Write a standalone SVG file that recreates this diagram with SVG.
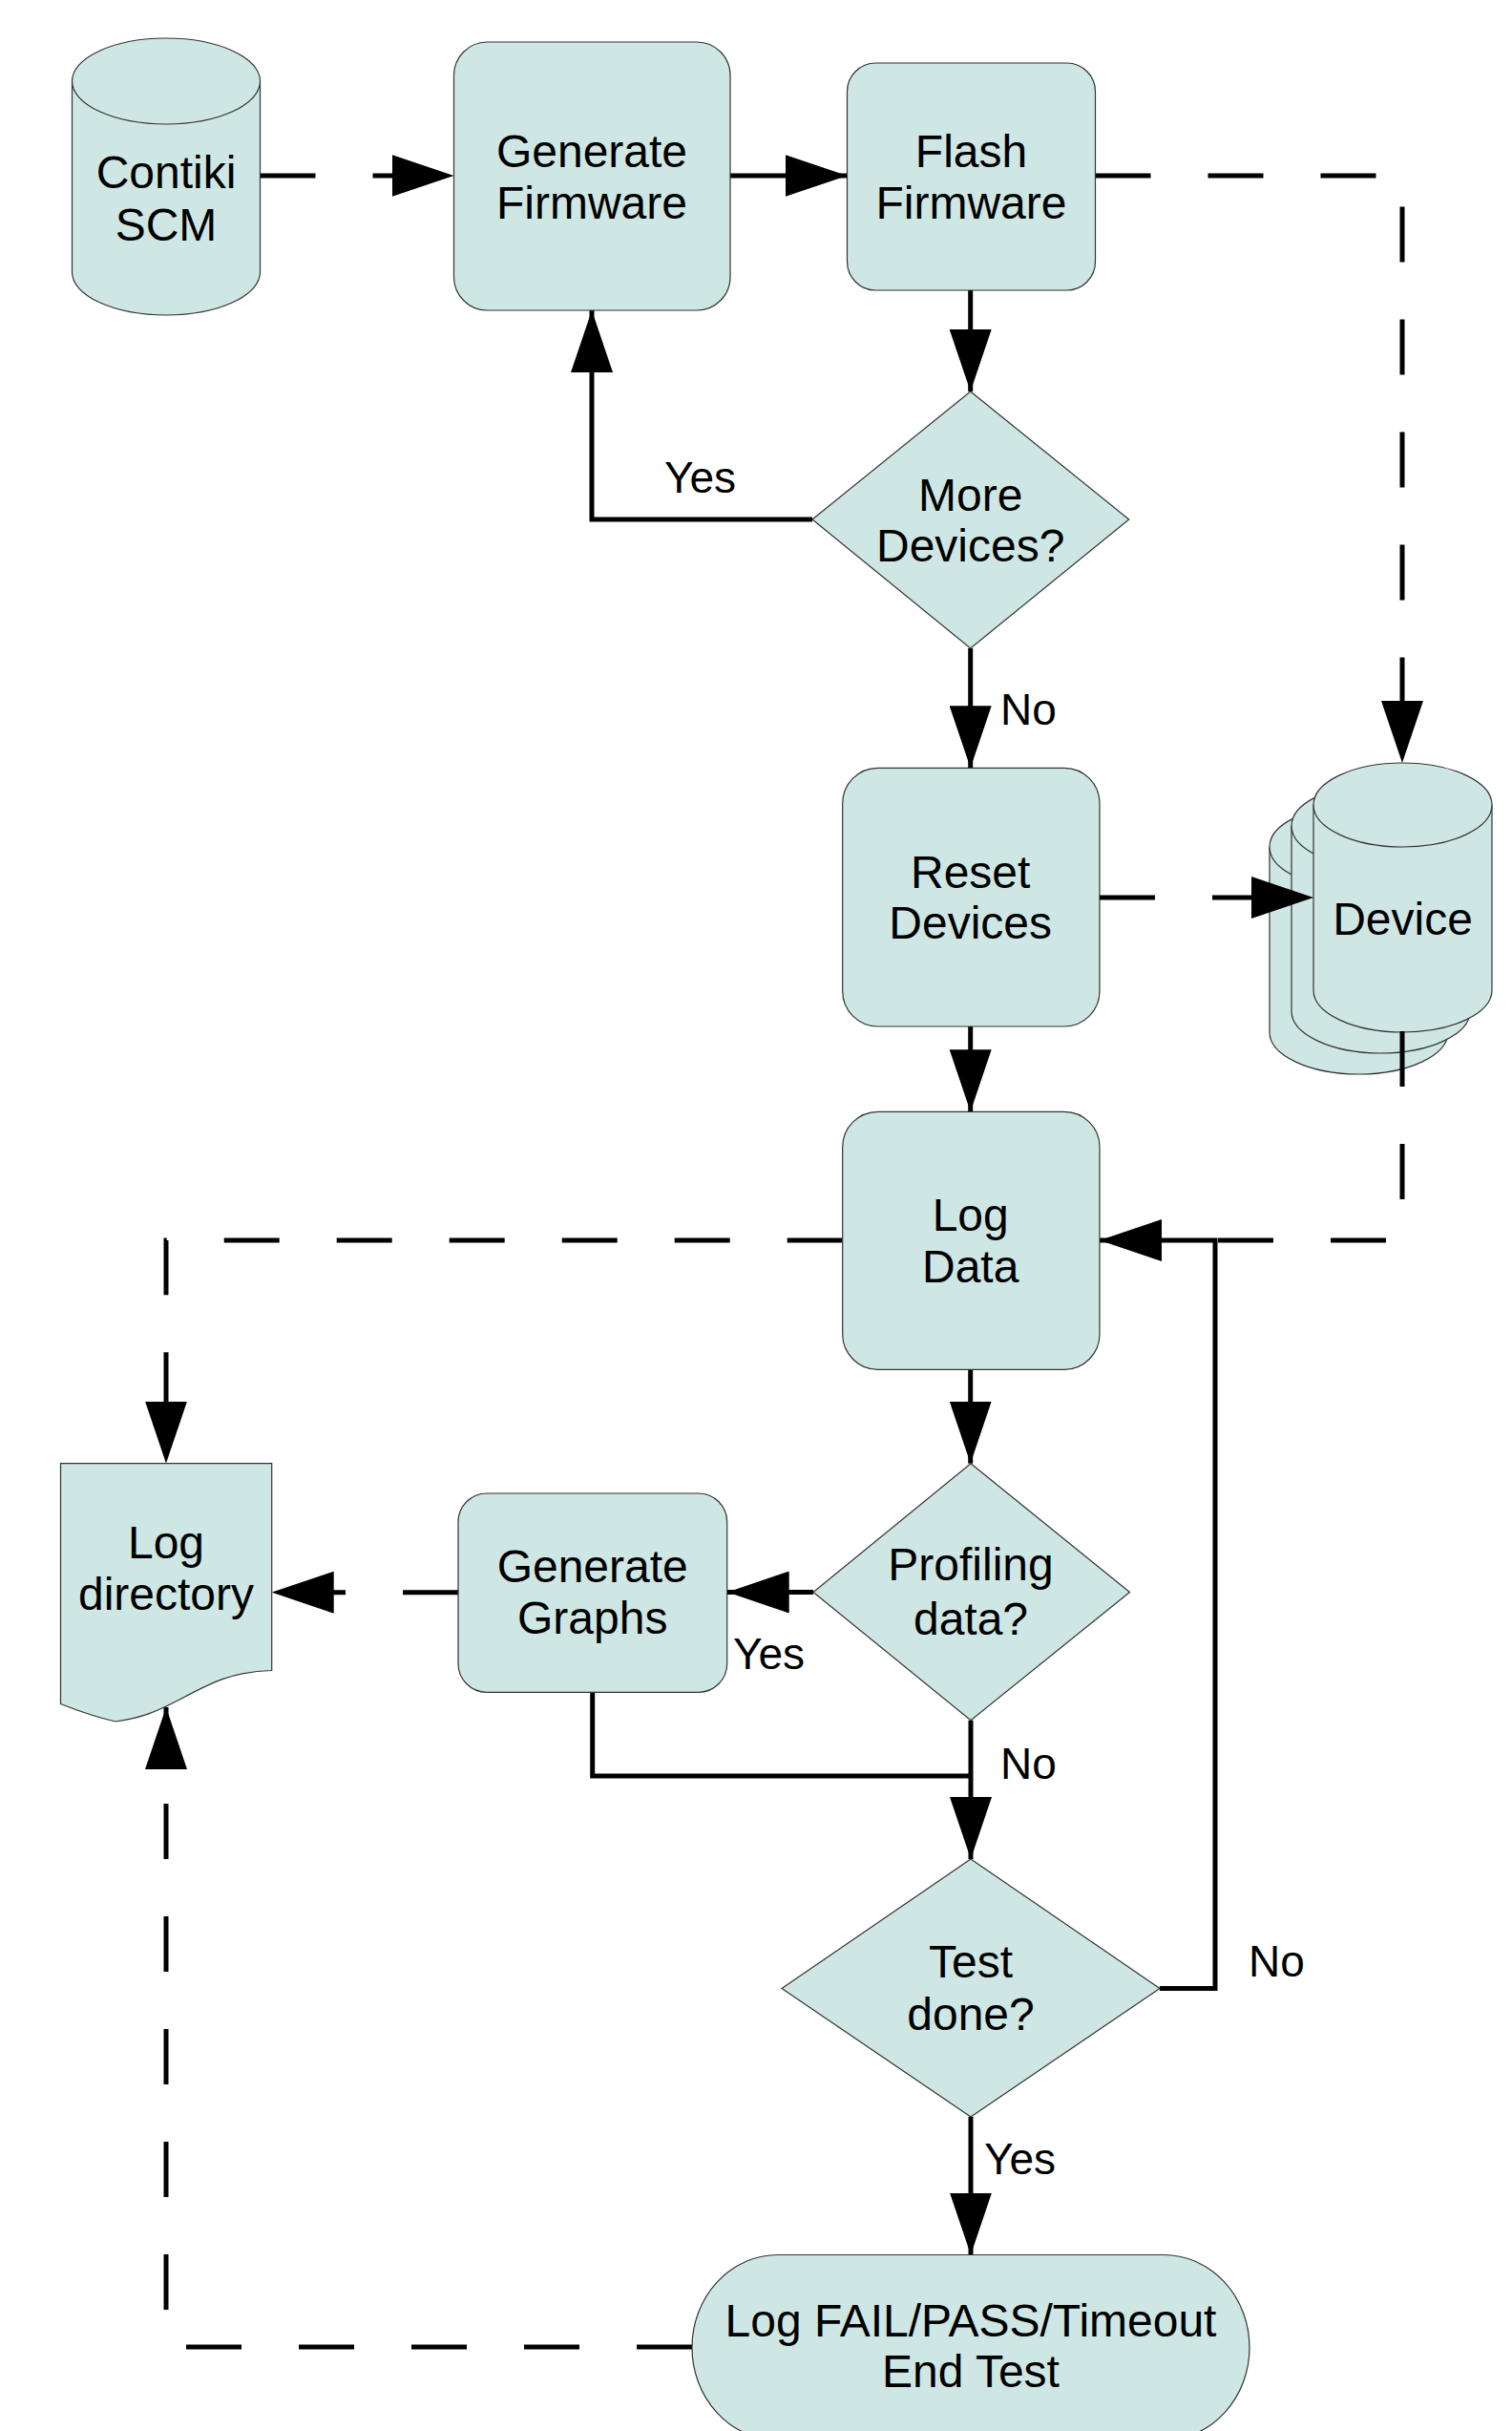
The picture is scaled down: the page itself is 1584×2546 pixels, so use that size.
<svg xmlns="http://www.w3.org/2000/svg" width="1584" height="2546" viewBox="0 0 1584 2546">
  <style>
    .node { fill: #cfe7e4; stroke: #333333; stroke-width: 1.2; }
    .label { font-family: "Liberation Sans", Arial, sans-serif; font-size: 48px; fill: #000000; text-anchor: middle; }
    .edge-label { font-family: "Liberation Sans", Arial, sans-serif; font-size: 46px; fill: #000000; }
    .flow { fill: none; stroke: #000000; stroke-width: 5; }
    .dashed { stroke-dasharray: 58 60; }
  </style>
  <defs>
    <marker id="arrow" viewBox="0 0 65 44" markerWidth="65" markerHeight="44" refX="65" refY="22" orient="auto" markerUnits="userSpaceOnUse">
      <path d="M0,0 L65,22 L0,44 Z" fill="#000000"/>
    </marker>
  </defs>

  <rect width="1584" height="2546" fill="#ffffff"/>

  <!-- connectors -->
  <g id="connectors">
    <path class="flow dashed" d="M272.5,184 H475.5" marker-end="url(#arrow)"/>
    <path class="flow" d="M765,184 H887.5" marker-end="url(#arrow)"/>
    <path class="flow dashed" d="M1147.5,184 H1469 V799" marker-end="url(#arrow)"/>
    <path class="flow" d="M1016.7,304 V410" marker-end="url(#arrow)"/>
    <path class="flow" d="M851,544 H620 V325" marker-end="url(#arrow)"/>
    <path class="flow" d="M1016.7,679 V804.3" marker-end="url(#arrow)"/>
    <path class="flow" d="M1016.7,1075 V1164.3" marker-end="url(#arrow)"/>
    <path class="flow dashed" d="M882.7,1299 H174 V1532.6" marker-end="url(#arrow)"/>
    <path class="flow" d="M1016.7,1434.3 V1532.7" marker-end="url(#arrow)"/>
    <path class="flow" d="M852,1667.5 H761.7" marker-end="url(#arrow)"/>
    <path class="flow dashed" d="M480,1667.7 H284.7" marker-end="url(#arrow)"/>
    <path class="flow" d="M1017,1801.7 V1947" marker-end="url(#arrow)"/>
    <path class="flow" d="M620.7,1772.3 V1860 H1017"/>
    <path class="flow" d="M1215,2082.5 H1273 V1299 H1152" marker-end="url(#arrow)"/>
    <path class="flow" d="M1017,2217 V2361.5" marker-end="url(#arrow)"/>
    <path class="flow dashed" d="M725,2458 H174 V1788" marker-end="url(#arrow)"/>

    <text class="edge-label" x="696" y="516">Yes</text>
    <text class="edge-label" x="1048" y="759">No</text>
    <text class="edge-label" x="768" y="1748">Yes</text>
    <text class="edge-label" x="1048" y="1863">No</text>
    <text class="edge-label" x="1308" y="2070">No</text>
    <text class="edge-label" x="1031" y="2277">Yes</text>
  </g>

  <!-- Contiki SCM repository -->
  <g id="contiki-scm">
    <path class="node" d="M75.5,85 V285 A98.5,45 0 0 0 272.5,285 V85 A98.5,45 0 0 0 75.5,85 Z"/>
    <path class="node" d="M75.5,85 A98.5,45 0 0 0 272.5,85" fill="none"/>
    <text class="label" x="174" y="197">Contiki</text>
    <text class="label" x="174" y="252">SCM</text>
  </g>

  <g id="generate-firmware">
    <rect class="node" x="475.5" y="44" width="289.5" height="281" rx="35" ry="35"/>
    <text class="label" x="620" y="175">Generate</text>
    <text class="label" x="620" y="229">Firmware</text>
  </g>

  <g id="flash-firmware">
    <rect class="node" x="887.5" y="66" width="260" height="238" rx="30" ry="30"/>
    <text class="label" x="1017.5" y="175">Flash</text>
    <text class="label" x="1017.5" y="229">Firmware</text>
  </g>

  <g id="more-devices">
    <polygon class="node" points="1016.7,410 1182.7,544 1016.7,679 851,544"/>
    <text class="label" x="1016.7" y="535">More</text>
    <text class="label" x="1016.7" y="588">Devices?</text>
  </g>

  <g id="reset-devices">
    <rect class="node" x="882.7" y="804.3" width="269.3" height="270.7" rx="37" ry="37"/>
    <text class="label" x="1016.7" y="930">Reset</text>
    <text class="label" x="1016.7" y="983">Devices</text>
  </g>

  <!-- stack of device cylinders, back to front -->
  <g id="device">
    <path class="node" d="M1330,887 V1081 A93.5,44 0 0 0 1517,1081 V887 A93.5,44 0 0 0 1330,887 Z"/>
    <path class="node" d="M1330,887 A93.5,44 0 0 0 1517,887" fill="none"/>
    <path class="node" d="M1353,865 V1059 A93.5,44 0 0 0 1540,1059 V865 A93.5,44 0 0 0 1353,865 Z"/>
    <path class="node" d="M1353,865 A93.5,44 0 0 0 1540,865" fill="none"/>
    <path class="node" d="M1376,843 V1037 A93.5,44 0 0 0 1563,1037 V843 A93.5,44 0 0 0 1376,843 Z"/>
    <path class="node" d="M1376,843 A93.5,44 0 0 0 1563,843" fill="none"/>
    <text class="label" x="1469.5" y="979">Device</text>
  </g>

  <!-- device links, drawn over the stack -->
  <g id="device-links">
    <path class="flow dashed" d="M1152,940 H1376" marker-end="url(#arrow)"/>
    <path class="flow dashed" d="M1469,1080 V1299 H1273"/>
  </g>

  <g id="log-data">
    <rect class="node" x="882.7" y="1164.3" width="269.3" height="270" rx="37" ry="37"/>
    <text class="label" x="1016.7" y="1289">Log</text>
    <text class="label" x="1016.7" y="1343">Data</text>
  </g>

  <g id="log-directory">
    <path class="node" d="M63.5,1532.6 H284.7 V1749.5 C245,1750 220,1763 190,1779 C165,1792 150,1799 121,1803 Q95,1797 63.5,1784.5 Z"/>
    <text class="label" x="174" y="1632">Log</text>
    <text class="label" x="174" y="1686">directory</text>
  </g>

  <g id="generate-graphs">
    <rect class="node" x="480" y="1564" width="281.7" height="208.3" rx="30" ry="30"/>
    <text class="label" x="620.7" y="1657">Generate</text>
    <text class="label" x="620.7" y="1711">Graphs</text>
  </g>

  <g id="profiling-data">
    <polygon class="node" points="1017,1532.7 1183.5,1667.5 1017,1801.7 852,1667.5"/>
    <text class="label" x="1017" y="1655">Profiling</text>
    <text class="label" x="1017" y="1712">data?</text>
  </g>

  <g id="test-done">
    <polygon class="node" points="1017,1947 1215,2082.5 1017,2217 819,2082.5"/>
    <text class="label" x="1017" y="2071">Test</text>
    <text class="label" x="1017" y="2126">done?</text>
  </g>

  <g id="end-test">
    <rect class="node" x="725" y="2361.5" width="584" height="194" rx="90" ry="97"/>
    <text class="label" x="1017" y="2447">Log FAIL/PASS/Timeout</text>
    <text class="label" x="1017" y="2500">End Test</text>
  </g>
</svg>
